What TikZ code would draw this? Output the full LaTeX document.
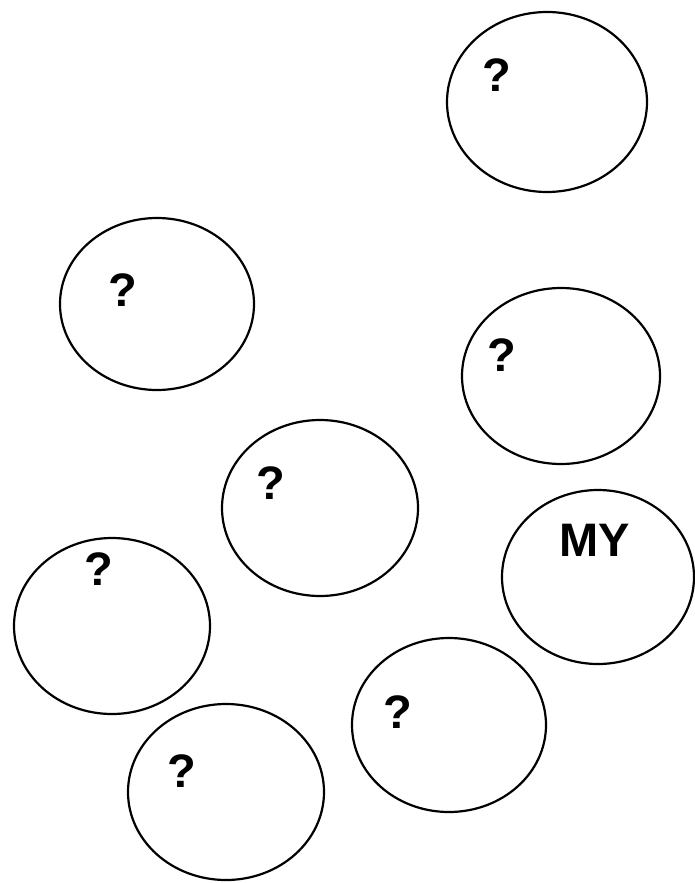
\documentclass[tikz,border=0pt]{standalone}
\usepackage{fontspec}
\setmainfont{Liberation Sans}
\usetikzlibrary{shapes.geometric}
\begin{document}
\begin{tikzpicture}[x=1pt,y=-1pt,
  cell/.style={draw=black, line width=2.2pt, ellipse, inner sep=0pt},
  qtext/.style={font=\bfseries\fontsize{47}{47}\selectfont, inner sep=0pt}]
\useasboundingbox[fill=white] (0,0) rectangle (695,883);
\node[cell, minimum width=200, minimum height=180] (e1) at (547,102) {};
\node[cell, minimum width=194, minimum height=172] (e2) at (157,304) {};
\node[cell, minimum width=198, minimum height=176] (e3) at (561,376) {};
\node[cell, minimum width=196, minimum height=176] (e4) at (320,508) {};
\node[cell, minimum width=192, minimum height=174] (e5) at (598,577) {};
\node[cell, minimum width=196, minimum height=176] (e6) at (112,626) {};
\node[cell, minimum width=194, minimum height=174] (e7) at (449,725) {};
\node[cell, minimum width=196, minimum height=176] (e8) at (226,792) {};
\node[qtext] (t1) at (497,75) {?};
\node[qtext] (t2) at (123,290) {?};
\node[qtext] (t3) at (502,355) {?};
\node[qtext] (t4) at (271,483) {?};
\node[qtext] (t5) at (595,540) {MY};
\node[qtext] (t6) at (99,569) {?};
\node[qtext] (t7) at (398,712) {?};
\node[qtext] (t8) at (182,771) {?};
\end{tikzpicture}
\end{document}
